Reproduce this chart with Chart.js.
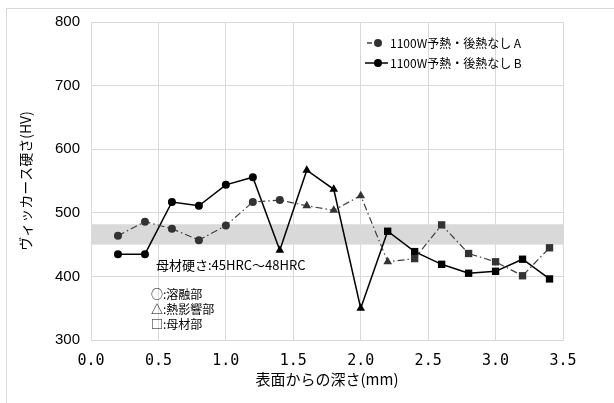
<!DOCTYPE html>
<html>
<head>
<meta charset="utf-8">
<script src="https://cdn.jsdelivr.net/npm/chart.js@4"></script>
<style>
  body { margin: 0; background: #fff; overflow: hidden; }
  #wrap { position: relative; width: 614px; height: 403px; overflow: hidden; }
  #frame { position: absolute; left: 6px; top: 8px; width: 640px; height: 420px; border: 1px solid #d9d9d9; pointer-events: none; }
</style>
</head>
<body>
<div id="wrap">
  <canvas id="myChart" width="614" height="403"></canvas>
  <div id="frame"></div>
</div>
<script>
// 表面からの深さ (mm)
var depth = [0.2, 0.4, 0.6, 0.8, 1.0, 1.2, 1.4, 1.6, 1.8, 2.0, 2.2, 2.4, 2.6, 2.8, 3.0, 3.2, 3.4]
// ビッカース硬さ (HV)
var hvA = [464, 486, 475, 457, 480, 517, 520, 511, 504, 527, 423, 428, 481, 436, 423, 401, 445]
var hvB = [435, 435, 517, 511, 544, 556, 441, 567, 537, 350, 471, 439, 419, 405, 408, 427, 396]
// 溶融部=circle, 熱影響部=triangle, 母材部=rect
var zoneA = ['circle','circle','circle','circle','circle','circle','circle','triangle','triangle','triangle','triangle','rect','rect','rect','rect','rect','rect']
var zoneB = ['circle','circle','circle','circle','circle','circle','triangle','triangle','triangle','triangle','rect','rect','rect','rect','rect','rect','rect']

var seriesNames = ['1100W予熱・後熱なし A', '1100W予熱・後熱なし B']
var bandLow = 450
var bandHigh = 482
var bandText = '母材硬さ:45HRC～48HRC'
var zoneNotes = ['○:溶融部', '△:熱影響部', '□:母材部']

var jp = '"Noto Sans CJK JP", "Noto Sans", sans-serif'

function pts(ys) {
    var out = []
    for (var i = 0; i < depth.length; i++) {
        out.push({ x: depth[i], y: ys[i] })
    }
    return out
}
function sizes(styles) {
    return styles.map(s => s == 'circle' ? 4 : (s == 'triangle' ? 5 : 5.2))
}

var bandPlugin = {
    id: 'band',
    beforeDatasetsDraw(chart) {
        var c = chart.ctx, a = chart.chartArea, y = chart.scales.y
        var top = y.getPixelForValue(bandHigh), bot = y.getPixelForValue(bandLow)
        c.save()
        c.fillStyle = '#d9d9d9'
        c.fillRect(a.left, top, a.right - a.left, bot - top)
        c.restore()
    },
    afterDatasetsDraw(chart) {
        var c = chart.ctx, a = chart.chartArea
        c.save()
        c.fillStyle = '#000'
        c.textBaseline = 'middle'
        c.font = '13px ' + jp
        c.fillText(bandText, a.left + 65, 265)
        c.font = '12px ' + jp
        for (var i = 0; i < zoneNotes.length; i++) {
            c.fillText(zoneNotes[i], a.left + 60, 294 + i * 15)
        }
        // legend
        var lx = 365, ly = [43, 63]
        for (var k = 0; k < 2; k++) {
            var ds = chart.data.datasets[k]
            c.strokeStyle = ds.borderColor
            c.lineWidth = 1.5
            c.beginPath()
            if (k == 0) { c.moveTo(lx + 2, ly[k]); c.lineTo(lx + 7, ly[k]) }
            else { c.moveTo(lx, ly[k]); c.lineTo(lx + 23, ly[k]) }
            c.stroke()
            c.fillStyle = ds.pointBackgroundColor
            c.beginPath()
            c.arc(lx + 13, ly[k], 4, 0, Math.PI * 2)
            c.fill()
            c.fillStyle = '#000'
            c.font = '12px ' + jp
            c.fillText(seriesNames[k], lx + 25, ly[k])
        }
        c.restore()
    }
}

const ctx = document.getElementById('myChart')

var chart = new Chart(ctx, {
    type: 'scatter',
    data: {
        datasets: [{
            label: seriesNames[0],
            data: pts(hvA),
            showLine: true,
            borderColor: '#404040',
            borderWidth: 1.2,
            borderDash: [7, 3, 1.5, 3],
            pointStyle: zoneA,
            pointRadius: sizes(zoneA),
            pointBackgroundColor: '#333',
            pointBorderColor: '#333',
            pointBorderWidth: 0
        }, {
            label: seriesNames[1],
            data: pts(hvB),
            showLine: true,
            borderColor: '#000',
            borderWidth: 1.5,
            pointStyle: zoneB,
            pointRadius: sizes(zoneB),
            pointBackgroundColor: '#000',
            pointBorderColor: '#000',
            pointBorderWidth: 0
        }]
    },
    options: {
        responsive: false,
        animation: false,
        layout: { padding: { left: 17, top: 22, right: 51, bottom: 15 } },
        plugins: { legend: { display: false }, tooltip: { enabled: false } },
        scales: {
            x: {
                type: 'linear',
                min: 0, max: 3.5,
                ticks: {
                    stepSize: 0.5,
                    color: '#000',
                    padding: 12,
                    font: { family: '"DejaVu Sans Mono", monospace', size: 15 },
                    callback: v => v.toFixed(1)
                },
                grid: { color: '#d9d9d9', drawTicks: false },
                border: { color: '#d9d9d9' },
                title: {
                    display: true,
                    text: '表面からの深さ(mm)',
                    color: '#000',
                    font: { family: jp, size: 15 },
                    padding: { top: 0, bottom: 0 }
                },
                afterFit: s => { s.height = 48 }
            },
            y: {
                min: 300, max: 800,
                ticks: {
                    stepSize: 100,
                    color: '#000',
                    padding: 11,
                    font: { family: '"Liberation Sans", Arial, sans-serif', size: 15 }
                },
                grid: { color: '#d9d9d9', drawTicks: false },
                border: { color: '#d9d9d9' },
                title: {
                    display: true,
                    text: 'ヴィッカース硬さ(HV)',
                    color: '#000',
                    font: { family: jp, size: 14 },
                    padding: { top: 0, bottom: 0 }
                },
                afterFit: s => { s.width = 74 }
            }
        }
    },
    plugins: [bandPlugin]
})
</script>
</body>
</html>
